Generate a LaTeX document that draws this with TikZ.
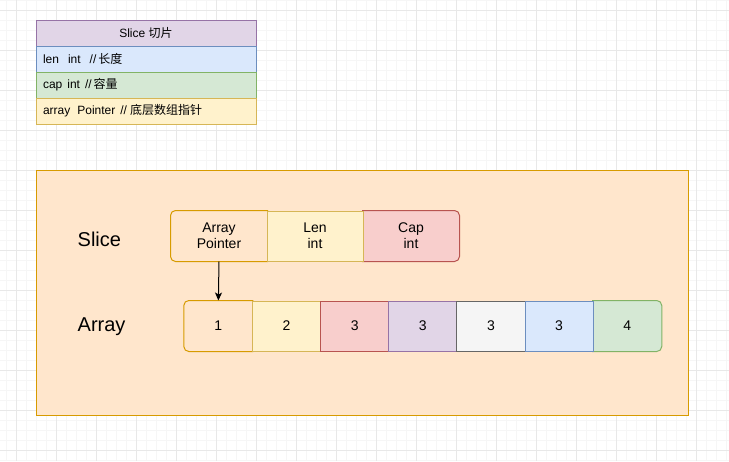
\documentclass[tikz,border=0pt]{standalone}
\usepackage{fontspec}
\setmainfont{Liberation Sans}
\newfontfamily\cjk{Noto Sans CJK SC}
\usetikzlibrary{arrows.meta}
\definecolor{orF}{HTML}{FFE6CC}\definecolor{orS}{HTML}{D79B00}
\definecolor{yeF}{HTML}{FFF2CC}\definecolor{yeS}{HTML}{D6B656}
\definecolor{reF}{HTML}{F8CECC}\definecolor{reS}{HTML}{B85450}
\definecolor{puF}{HTML}{E1D5E7}\definecolor{puS}{HTML}{9673A6}
\definecolor{grF}{HTML}{F5F5F5}\definecolor{grS}{HTML}{666666}
\definecolor{blF}{HTML}{DAE8FC}\definecolor{blS}{HTML}{6C8EBF}
\definecolor{gnF}{HTML}{D5E8D4}\definecolor{gnS}{HTML}{82B366}
\definecolor{gridMajor}{HTML}{E8E8E8}
\definecolor{gridMinor}{HTML}{F6F6F6}
\pgfdeclarelayer{bg}
\pgfdeclarelayer{mid}
\pgfsetlayers{bg,mid,main}
\tikzset{
  txt/.style={font=\fontsize{12}{15}\selectfont, text=black},
  rowbox/.style={txt, draw, line width=1pt, minimum width=220pt, minimum height=26pt, inner sep=0pt},
  leftrow/.style={rowbox, text width=206pt, align=left, inner xsep=7pt},
  cellbox/.style={font=\fontsize{14}{16}\selectfont, text=black, line width=1pt, minimum height=50pt, inner sep=0pt, align=center},
  scell/.style={cellbox, minimum width=96pt},
  acell/.style={cellbox, minimum width=68.14pt},
  biglabel/.style={font=\fontsize{20}{24}\selectfont, text=black, anchor=base west, inner sep=0pt},
  shapeline/.style={line width=1pt},
}
\begin{document}
\begin{tikzpicture}[x=1pt,y=1pt]
\useasboundingbox (0,0) rectangle (729,-461);
\begin{pgfonlayer}{bg}
  \fill[white] (0,0) rectangle (729,-461);
  \foreach \i in {0,...,72} \draw[gridMinor, line width=1pt] ({6.67+10*\i},0) -- ({6.67+10*\i},-461);
  \foreach \i in {0,...,46} \draw[gridMinor, line width=1pt] (0,{-10*\i}) -- (729,{-10*\i});
  \foreach \i in {0,...,18} \draw[gridMajor, line width=1pt] ({16.67+40*\i},0) -- ({16.67+40*\i},-461);
  \foreach \i in {0,...,11} \draw[gridMajor, line width=1pt] (0,{-10-40*\i}) -- (729,{-10-40*\i});
  \filldraw[fill=orF, draw=orS, line width=1pt] (36,-170) rectangle (688,-415);
\end{pgfonlayer}

% table
\node[rowbox, fill=puF, draw=puS] (thead) at (146,-33) {Slice {\cjk 切片}};
\node[leftrow, fill=blF, draw=blS] (tlen) at (146,-59) {len\hspace{9pt}int\hspace{9pt}//\hspace{2pt}{\cjk 长度}};
\node[leftrow, fill=gnF, draw=gnS] (tcap) at (146,-85) {cap\hspace{5pt}int\hspace{5pt}//\hspace{2pt}{\cjk 容量}};
\node[leftrow, fill=yeF, draw=yeS] (tarr) at (146,-111) {array\hspace{7pt}Pointer\hspace{5pt}//\hspace{3pt}{\cjk 底层数组指针}};

% labels
\node[biglabel] (lslice) at (77.5,-246.7) {Slice};
\node[biglabel] (larray) at (77.5,-331) {Array};

% slice cells
\node[scell] (ap) at (219,-236) {Array\\Pointer};
\node[scell, fill=yeF, draw=yeS] (len) at (315,-236) {Len\\int};
\node[scell] (cap) at (411,-236) {Cap\\int};
\begin{pgfonlayer}{mid}
  \filldraw[fill=orF, draw=orS, shapeline] (ap.north east) -- ([xshift=5pt]ap.north west)
    arc[start angle=90, end angle=180, radius=5pt] -- ([yshift=5pt]ap.south west)
    arc[start angle=180, end angle=270, radius=5pt] -- (ap.south east) -- cycle;
  \filldraw[fill=reF, draw=reS, shapeline] (cap.north west) -- ([xshift=-5pt]cap.north east)
    arc[start angle=90, end angle=0, radius=5pt] -- ([yshift=5pt]cap.south east)
    arc[start angle=0, end angle=-90, radius=5pt] -- (cap.south west) -- cycle;
\end{pgfonlayer}

% array cells
\node[acell] (a1) at (218.37,-326) {1};
\node[acell, fill=yeF, draw=yeS] (a2) at (286.51,-326) {2};
\node[acell, fill=reF, draw=reS] (a3) at (354.65,-326) {3};
\node[acell, fill=puF, draw=puS] (a4) at (422.79,-326) {3};
\node[acell, fill=grF, draw=grS] (a5) at (490.93,-326) {3};
\node[acell, fill=blF, draw=blS] (a6) at (559.07,-326) {3};
\node[acell] (a7) at (627.21,-326) {4};
\begin{pgfonlayer}{mid}
  \filldraw[fill=orF, draw=orS, shapeline] (a1.north east) -- ([xshift=5pt]a1.north west)
    arc[start angle=90, end angle=180, radius=5pt] -- ([yshift=5pt]a1.south west)
    arc[start angle=180, end angle=270, radius=5pt] -- (a1.south east) -- cycle;
  \filldraw[fill=gnF, draw=gnS, shapeline] (a7.north west) -- ([xshift=-5pt]a7.north east)
    arc[start angle=90, end angle=0, radius=5pt] -- ([yshift=5pt]a7.south east)
    arc[start angle=0, end angle=-90, radius=5pt] -- (a7.south west) -- cycle;
\end{pgfonlayer}

% pointer arrow
\draw[line width=1pt, -{Stealth[length=8pt,width=7pt,inset=2pt]}] (ap.south) -- (a1.north);
\end{tikzpicture}
\end{document}
